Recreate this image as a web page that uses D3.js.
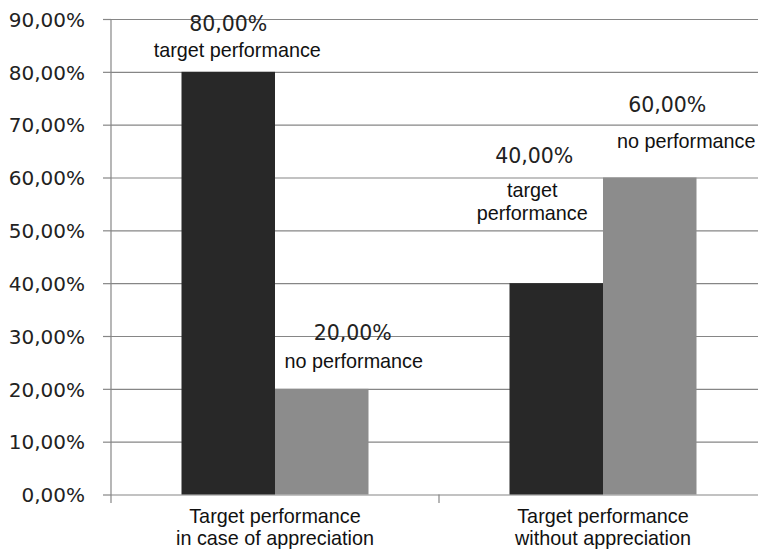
<!DOCTYPE html>
<html>
<head>
<meta charset="utf-8">
<script src="https://cdn.jsdelivr.net/npm/d3@7"></script>
<style>
  html, body { margin: 0; padding: 0; background: #fff; }
  svg { display: block; }
</style>
</head>
<body>
<svg id="chart" width="758" height="550"></svg>
<script>
// ---- data ----
const categories = [
  ["Target performance", "in case of appreciation"],
  ["Target performance", "without appreciation"]
];
const categoryKeys = ["appreciation", "noAppreciation"];
const seriesNames = ["target performance", "no performance"];
const seriesValues = [
  [0.80, 0.20],   // appreciation: target, no performance
  [0.40, 0.60]    // without appreciation: target, no performance
];
const seriesColors = ["#282828", "#8c8c8c"];
const yTicks = [0, 0.1, 0.2, 0.3, 0.4, 0.5, 0.6, 0.7, 0.8, 0.9];
// label lines per bar [category][series]
const barLabelLines = [
  [["target performance"], ["no performance"]],
  [["target", "performance"], ["no performance"]]
];

// ---- layout ----
const W = 758, H = 550;
const mLeft = 111, mRight = 767, mTop = 19, mBottom = 494.5;

const svg = d3.select("#chart");
const locale = d3.formatLocale({decimal: ",", thousands: ".", grouping: [3], currency: ["", "€"]});
const pct = locale.format(".2%");

const y = d3.scaleLinear().domain([0, 0.9]).range([mBottom, mTop]);
const x0 = d3.scaleBand().domain(categoryKeys).range([mLeft, mRight]).paddingInner(0).paddingOuter(0);
const x1 = d3.scaleBand().domain(d3.range(seriesNames.length)).range([70.5, x0.bandwidth() - 70.5]).padding(0);

// gridlines
const grid = svg.append("g").attr("transform", `translate(${mLeft},0)`)
  .call(d3.axisLeft(y).tickValues(yTicks).tickSize(-(W - mLeft)).tickFormat(""));
grid.select(".domain").remove();
grid.selectAll("line").attr("stroke", "#868686").attr("stroke-width", 1.2);

// bars
const groups = svg.append("g").selectAll("g").data(categoryKeys).join("g")
  .attr("transform", d => `translate(${x0(d)},0)`);
groups.selectAll("rect").data((d, i) => seriesValues[i].map((v, j) => ({v, j})))
  .join("rect")
  .attr("x", d => x1(d.j))
  .attr("width", x1.bandwidth())
  .attr("y", d => y(d.v))
  .attr("height", d => y(0) - y(d.v))
  .attr("fill", d => seriesColors[d.j]);

// y axis
const yAxis = svg.append("g").attr("transform", `translate(${mLeft},0)`)
  .call(d3.axisLeft(y).tickValues(yTicks).tickSize(8).tickPadding(18).tickFormat(pct));
yAxis.select(".domain").remove();
yAxis.selectAll("line").attr("stroke", "#868686").attr("stroke-width", 1.2);
yAxis.selectAll("text")
  .attr("font-family", "DejaVu Sans, Verdana, sans-serif")
  .attr("font-size", 20)
  .attr("fill", "#222")
  .attr("dy", "0.36em");
// vertical axis line
svg.append("line").attr("x1", mLeft).attr("x2", mLeft).attr("y1", mTop).attr("y2", mBottom + 8.5)
  .attr("stroke", "#868686").attr("stroke-width", 1.2);
// category separator ticks
svg.append("g").selectAll("line").data(categoryKeys.slice(1)).join("line")
  .attr("x1", d => x0(d)).attr("x2", d => x0(d))
  .attr("y1", mBottom).attr("y2", mBottom + 8.5)
  .attr("stroke", "#868686").attr("stroke-width", 1.2);

// category labels
const catG = svg.append("g");
categoryKeys.forEach((k, i) => {
  const t = catG.append("text")
    .attr("text-anchor", "middle")
    .attr("font-family", "Liberation Sans, Arial, sans-serif")
    .attr("font-size", 19.8)
    .attr("fill", "#111");
  categories[i].forEach((line, li) => {
    t.append("tspan").attr("x", x0(k) + x0.bandwidth() / 2)
      .attr("y", mBottom + 28.5 + li * 22).text(line);
  });
});

// value labels: offsets relative to bar top/center (style only)
const valueOffsets = [
  [{vx: 0, vy: -40.5, lx: 9, ly: [-14.5]}, {vx: 31, vy: -49, lx: 32, ly: [-21]}],
  [{vx: -22, vy: -120.5, lx: -24, ly: [-86.5, -63.5], bg: true}, {vx: 17.5, vy: -66, lx: 36.5, ly: [-30]}]
];
const lblG = svg.append("g");
categoryKeys.forEach((k, i) => {
  seriesValues[i].forEach((v, j) => {
    const cx = x0(k) + x1(j) + x1.bandwidth() / 2;
    const ty = y(v);
    const o = valueOffsets[i][j];
    if (o.bg) {
      lblG.append("rect")
        .attr("x", cx + o.lx - 58).attr("width", 116)
        .attr("y", ty + o.ly[0] - 17).attr("height", o.ly[o.ly.length - 1] - o.ly[0] + 22)
        .attr("fill", "#fff");
    }
    lblG.append("text")
      .attr("x", cx + o.vx).attr("y", ty + o.vy)
      .attr("text-anchor", "middle")
      .attr("font-family", "DejaVu Sans, Verdana, sans-serif")
      .attr("font-size", 20.5)
      .attr("fill", "#222")
      .text(pct(v));
    barLabelLines[i][j].forEach((line, li) => {
      lblG.append("text")
        .attr("x", cx + o.lx).attr("y", ty + o.ly[li])
        .attr("text-anchor", "middle")
        .attr("font-family", "Liberation Sans, Arial, sans-serif")
        .attr("font-size", 19.8)
        .attr("fill", "#111")
        .text(line);
    });
  });
});
</script>
</body>
</html>
